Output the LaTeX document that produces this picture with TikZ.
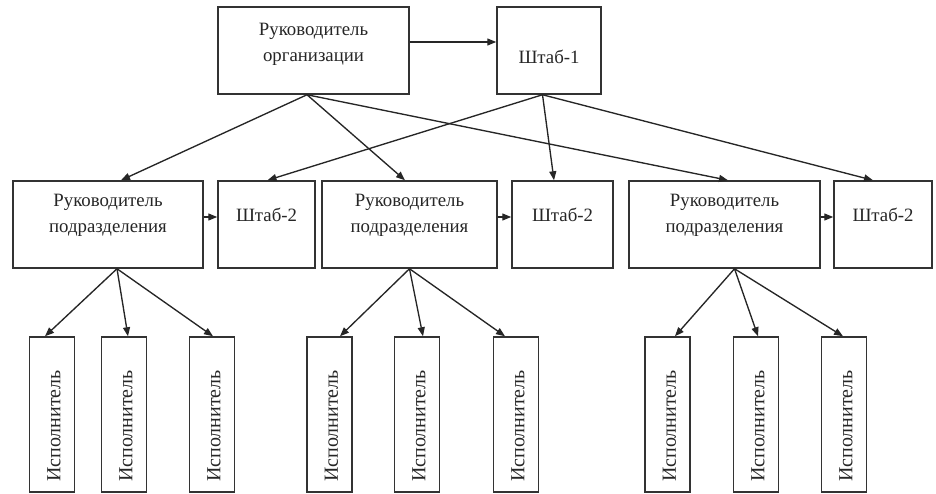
\documentclass[tikz,border=0pt]{standalone}
\usepackage{fontspec}
\setmainfont{Liberation Serif}
\usetikzlibrary{arrows.meta}
\begin{document}
\begin{tikzpicture}[x=1pt,y=-1pt,
  box/.style={draw=black!80, line width=1.5pt, inner sep=0pt, fill=white},
  wbox/.style={box, minimum height=87pt},
  ebox/.style={box, minimum width=45pt, minimum height=155pt},
  lbl/.style={font=\fontsize{18.8}{26}\selectfont, align=center, inner sep=0pt, text=black!85},
  elbl/.style={lbl, font=\fontsize{20}{24}\selectfont},
  arr/.style={draw=black!85, line width=1.35pt, -{Triangle[length=9pt,width=7pt]}}]
\useasboundingbox (0,0) rectangle (936,494);
% top level
\node[wbox, minimum width=191pt, label={[lbl,yshift=6.5pt]center:Руководитель\\организации}] (org) at (313.5,50.5) {};
\node[wbox, minimum width=104pt, label={[lbl,yshift=-6.5pt]center:Штаб-1}] (s1) at (549,50.5) {};
% second level
\node[wbox, minimum width=190pt, label={[lbl,yshift=9pt]center:Руководитель\\подразделения}] (b1) at (108,224.5) {};
\node[wbox, minimum width=97pt, label={[lbl,yshift=9.5pt]center:Штаб-2}] (s2a) at (266.5,224.5) {};
\node[wbox, minimum width=175pt, label={[lbl,yshift=9pt]center:Руководитель\\подразделения}] (b2) at (409.5,224.5) {};
\node[wbox, minimum width=101pt, label={[lbl,yshift=9.5pt]center:Штаб-2}] (s2b) at (562.5,224.5) {};
\node[wbox, minimum width=191pt, label={[lbl,yshift=9pt]center:Руководитель\\подразделения}] (b3) at (724.5,224.5) {};
\node[wbox, minimum width=98pt, label={[lbl,yshift=9.5pt]center:Штаб-2}] (s2c) at (883,224.5) {};
% executors
\foreach \n/\x in {ea/52,eb/124,ec/212,ed/329.5,ee/417,ef/516,eg/667.5,eh/756,ei/844}{
  \node[ebox, label={[elbl,yshift=-11.5pt,xshift=2pt,rotate=90]center:Исполнитель}] (\n) at (\x,414.5) {};
}
% connectors
\draw[arr] ([yshift=8.5pt]org.east) -- ([yshift=8.5pt]s1.west);
\draw[arr] ([xshift=-6.5pt]org.south) -- ([xshift=13pt]b1.north);
\draw[arr] ([xshift=-6.5pt]org.south) -- ([xshift=-4.5pt]b2.north);
\draw[arr] ([xshift=-6.5pt]org.south) -- ([xshift=3.5pt]b3.north);
\draw[arr] ([xshift=-6.5pt]s1.south) -- ([xshift=1pt]s2a.north);
\draw[arr] ([xshift=-6.5pt]s1.south) -- ([xshift=-8.5pt]s2b.north);
\draw[arr] ([xshift=-6.5pt]s1.south) -- ([xshift=-10pt]s2c.north);
\draw[arr] ([yshift=7.5pt]b1.east) -- ([yshift=7.5pt]s2a.west);
\draw[arr] ([yshift=7.5pt]b2.east) -- ([yshift=7.5pt]s2b.west);
\draw[arr] ([yshift=7.5pt]b3.east) -- ([yshift=7.5pt]s2c.west);
\draw[arr] ([xshift=9pt]b1.south) -- ([xshift=-7pt]ea.north);
\draw[arr] ([xshift=9pt]b1.south) -- ([xshift=4pt]eb.north);
\draw[arr] ([xshift=9pt]b1.south) -- ([xshift=1pt]ec.north);
\draw[arr] ([xshift=0pt]b2.south) -- ([xshift=10.5pt]ed.north);
\draw[arr] ([xshift=0pt]b2.south) -- ([xshift=6pt]ee.north);
\draw[arr] ([xshift=0pt]b2.south) -- ([xshift=-11pt]ef.north);
\draw[arr] ([xshift=10pt]b3.south) -- ([xshift=7.5pt]eg.north);
\draw[arr] ([xshift=10pt]b3.south) -- ([xshift=2pt]eh.north);
\draw[arr] ([xshift=10pt]b3.south) -- ([xshift=-1pt]ei.north);
\end{tikzpicture}
\end{document}
